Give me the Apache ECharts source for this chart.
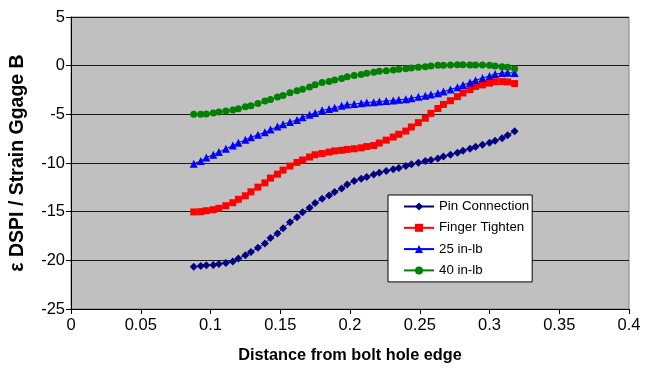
<!DOCTYPE html>
<html>
<head>
<meta charset="utf-8">
<script src="https://cdn.jsdelivr.net/npm/echarts@6/dist/echarts.min.js"></script>
<style>html,body{margin:0;padding:0;background:#fff;}#c{width:646px;height:369px;}</style>
</head>
<body>
<div id="c"></div>
<script>
var xValues = [0.088,0.093,0.097,0.102,0.106,0.111,0.116,0.120,0.125,0.129,0.134,0.139,0.143,0.148,0.152,0.157,0.162,0.166,0.171,0.175,0.180,0.185,0.189,0.194,0.198,0.203,0.208,0.212,0.217,0.221,0.226,0.231,0.235,0.240,0.244,0.249,0.254,0.258,0.263,0.267,0.272,0.277,0.281,0.286,0.290,0.295,0.300,0.304,0.309,0.313,0.318];
var pinConnection = [-20.67,-20.57,-20.51,-20.47,-20.37,-20.27,-20.12,-19.8,-19.49,-19.15,-18.7,-18.26,-17.7,-17.24,-16.7,-16.08,-15.57,-15.06,-14.59,-14.11,-13.67,-13.33,-12.99,-12.62,-12.2,-11.84,-11.63,-11.43,-11.19,-10.99,-10.82,-10.65,-10.51,-10.31,-10.14,-9.97,-9.80,-9.69,-9.53,-9.33,-9.15,-8.95,-8.74,-8.54,-8.34,-8.13,-7.93,-7.72,-7.45,-7.14,-6.73];
var fingerTighten = [-15.03,-15.0,-14.9,-14.8,-14.65,-14.39,-14.08,-13.73,-13.37,-12.96,-12.48,-12.04,-11.55,-11.15,-10.73,-10.31,-9.94,-9.69,-9.39,-9.15,-9.02,-8.88,-8.76,-8.7,-8.6,-8.54,-8.44,-8.31,-8.2,-7.95,-7.65,-7.33,-7.05,-6.72,-6.3,-5.86,-5.4,-4.9,-4.4,-3.98,-3.6,-3.18,-2.8,-2.45,-2.14,-1.98,-1.8,-1.65,-1.63,-1.67,-1.84];
var inLb25 = [-10.07,-9.8,-9.43,-9.15,-8.88,-8.54,-8.2,-7.93,-7.62,-7.35,-7.11,-6.84,-6.57,-6.26,-6.02,-5.79,-5.58,-5.31,-5.04,-4.87,-4.59,-4.46,-4.33,-4.12,-4.0,-3.95,-3.85,-3.78,-3.75,-3.67,-3.64,-3.57,-3.51,-3.44,-3.34,-3.2,-3.1,-2.96,-2.83,-2.65,-2.45,-2.21,-1.98,-1.73,-1.5,-1.27,-1.06,-0.86,-0.76,-0.73,-0.76];
var inLb40 = [-5.0,-5.0,-4.97,-4.86,-4.76,-4.66,-4.56,-4.42,-4.22,-4.11,-3.88,-3.64,-3.47,-3.23,-3.06,-2.79,-2.58,-2.42,-2.18,-1.97,-1.73,-1.63,-1.46,-1.33,-1.14,-1.02,-0.92,-0.78,-0.68,-0.58,-0.51,-0.44,-0.37,-0.31,-0.24,-0.17,-0.1,-0.03,0.03,0.03,0.07,0.1,0.1,0.07,0.07,0.07,0.03,-0.03,-0.1,-0.17,-0.31];
var seriesNames = ['Pin Connection','Finger Tighten','25 in-lb','40 in-lb'];
var xTicks = {min:0, max:0.4, interval:0.05};
var yTicks = {min:-25, max:5, interval:5};

function pairs(ys){ return xValues.map(function(x,i){ return [x, ys[i]]; }); }
var FONT = '"Liberation Sans", Arial, sans-serif';
var styles = [
  {color:'#000080', symbol:'diamond', size:8},
  {color:'#FF0000', symbol:'rect', size:7},
  {color:'#0000FF', symbol:'triangle', size:8},
  {color:'#008000', symbol:'circle', size:7}
];
var dataSets = [pinConnection, fingerTighten, inLb25, inLb40];
var series = dataSets.map(function(d, k){
  return {
    name: seriesNames[k], type:'line', data: pairs(d),
    symbol: styles[k].symbol, symbolSize: styles[k].size,
    showSymbol: true,
    lineStyle:{color:styles[k].color, width:1},
    itemStyle:{color:styles[k].color, borderWidth:0},
    emphasis:{disabled:true}, animation:false, z: 3
  };
});

var chart = echarts.init(document.getElementById('c'), null, {renderer:'canvas'});
chart.setOption({
  animation:false,
  grid:{left:70, right:17, top:17, bottom:57, show:true, backgroundColor:'#C0C0C0', borderColor:'#808080', borderWidth:1},
  legend:{
    orient:'vertical', left:388, top:195,
    data: seriesNames,
    backgroundColor:'#fff', borderColor:'#000', borderWidth:1,
    padding:[5,3,5,15], itemWidth:30, itemHeight:10, itemGap:8.3,
    textStyle:{fontFamily:FONT, fontSize:13.3, color:'#000'}
  },
  xAxis:{
    type:'value', min:xTicks.min, max:xTicks.max, interval:xTicks.interval,
    name:'Distance from bolt hole edge', nameLocation:'middle', nameGap:39,
    nameTextStyle:{fontFamily:FONT, fontSize:16.3, fontWeight:'bold', color:'#000'},
    axisLine:{show:true, onZero:false, lineStyle:{color:'#000', width:1}},
    axisTick:{show:true, length:5, lineStyle:{color:'#000'}},
    axisLabel:{fontFamily:FONT, fontSize:16.5, color:'#000', margin:8},
    splitLine:{show:false}
  },
  yAxis:{
    type:'value', min:yTicks.min, max:yTicks.max, interval:yTicks.interval,
    name:'\u03B5 DSPI / Strain Ggage B', nameLocation:'middle', nameGap:43,
    nameTextStyle:{fontFamily:FONT, fontSize:19.5, fontWeight:'bold', color:'#000'},
    axisLine:{show:true, onZero:false, lineStyle:{color:'#000', width:1}},
    axisTick:{show:true, length:5, lineStyle:{color:'#000'}},
    axisLabel:{fontFamily:FONT, fontSize:16.5, color:'#000', margin:6},
    splitLine:{show:true, lineStyle:{color:'#1a1a1a', width:1}}
  },
  series: series
});
</script>
</body>
</html>
